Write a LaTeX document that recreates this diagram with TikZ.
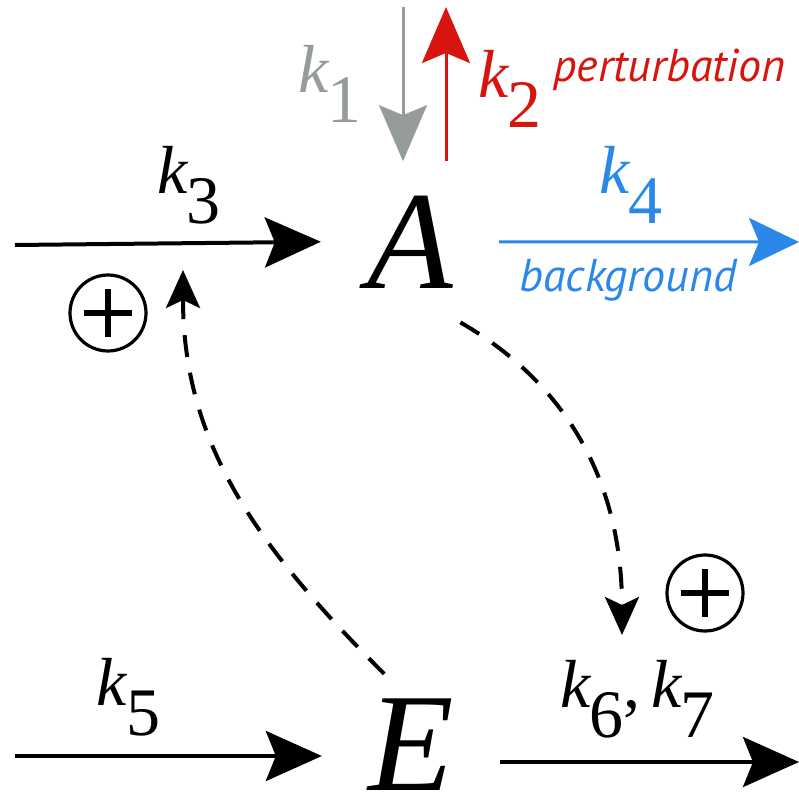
\documentclass[tikz,border=0pt]{standalone}
\usepackage{fontspec}
\setmainfont{Liberation Serif}
\newfontfamily\notefont{PT Sans}
\usetikzlibrary{arrows.meta}
\definecolor{inflowgray}{RGB}{150,156,156}
\definecolor{pertred}{RGB}{214,22,14}
\definecolor{bgblue}{RGB}{43,135,232}
\newcommand{\rate}[1]{\textit{k}\kern-1pt\raisebox{-15pt}{#1}}

\begin{document}
\begin{tikzpicture}[
  x=0.5pt, y=-0.5pt,
  species/.style={font=\fontsize{70}{80}\selectfont\itshape, inner xsep=23pt,
    inner ysep=17pt, anchor=base},
  rate/.style={font=\fontsize{34}{40}\selectfont, inner sep=2pt},
  note/.style={font=\notefont\fontsize{23}{27}\selectfont\itshape, inner sep=2pt},
  flux/.style={line width=2pt, -{Stealth[length=28pt, width=25pt, inset=5pt]}},
  thinflux/.style={line width=1.5pt, -{Stealth[length=28pt, width=24pt, inset=5pt]}},
  effect/.style={line width=2pt, dash pattern=on 11pt off 8pt,
    -{Stealth[length=19pt, width=17pt, inset=4pt]}},
  pluscirc/.style={circle, draw, line width=1.6pt, minimum size=38pt, inner sep=0pt,
    path picture={
      \draw[line width=3pt] ([xshift=-12pt]path picture bounding box.center)
        -- ([xshift=12pt]path picture bounding box.center);
      \draw[line width=3pt] ([yshift=-12pt]path picture bounding box.center)
        -- ([yshift=12pt]path picture bounding box.center);
    }}
]
\useasboundingbox (0,0) rectangle (799,797);

% Species
\node[species] (A) at (410, 288) {A};
\node[species, inner ysep=2pt] (E) at (411, 790) {E};

% Free ends
\coordinate (k1top) at (403, 7);
\coordinate (k2top) at (446, 7);
\coordinate (k3start) at (15, 245);
\coordinate (k4end) at (799, 242);
\coordinate (k5start) at (15, 756);
\coordinate (k67end) at (799, 762);
\coordinate (actA) at (183, 270);
\coordinate (actE) at (622, 635);

% Inflow and outflow of A
\draw[thinflux, inflowgray] (k1top) --
  node[rate, text=inflowgray, left=18pt] (k1lab) {\rate{1}} (k1top |- A.north);
\draw[thinflux, pertred] (k2top |- A.north) --
  node[rate, text=pertred, right=13.5pt, pos=0.47] (k2lab) {\rate{2}} (k2top);
\node[note, text=pertred, anchor=north west, xshift=1pt] (pert) at (k2lab.north east)
  {perturbation};
\draw[flux] (k3start) -- node[rate, above=6.5pt, pos=0.57] (k3lab) {\rate{3}} (A.west);
\draw[thinflux, bgblue, -{Stealth[length=25pt, width=24pt, inset=5pt]}] (A.east) --
  node[rate, text=bgblue, above=6.5pt, pos=0.44] (k4lab) {\rate{4}}
  node[note, text=bgblue, below=6pt, pos=0.43] (bg) {background} (k4end);

% Inflow and outflow of E
\draw[flux] (k5start) -- node[rate, above=7pt, pos=0.37] (k5lab) {\rate{5}}
  (k5start -| E.west);
\draw[flux] (E.east |- k67end) --
  node[rate, above=9pt, pos=0.46] (k67lab) {\rate{6},\,\rate{7}} (k67end);

% Activation loops
\draw[effect] (A.-58) to[out=-30, in=90] (actE);
\draw[effect] ([yshift=10pt]E.118) to[out=135, in=-90] (actA);
\node[pluscirc] (plusA) at (108, 313) {};
\node[pluscirc] (plusE) at (705, 593) {};

\end{tikzpicture}
\end{document}
